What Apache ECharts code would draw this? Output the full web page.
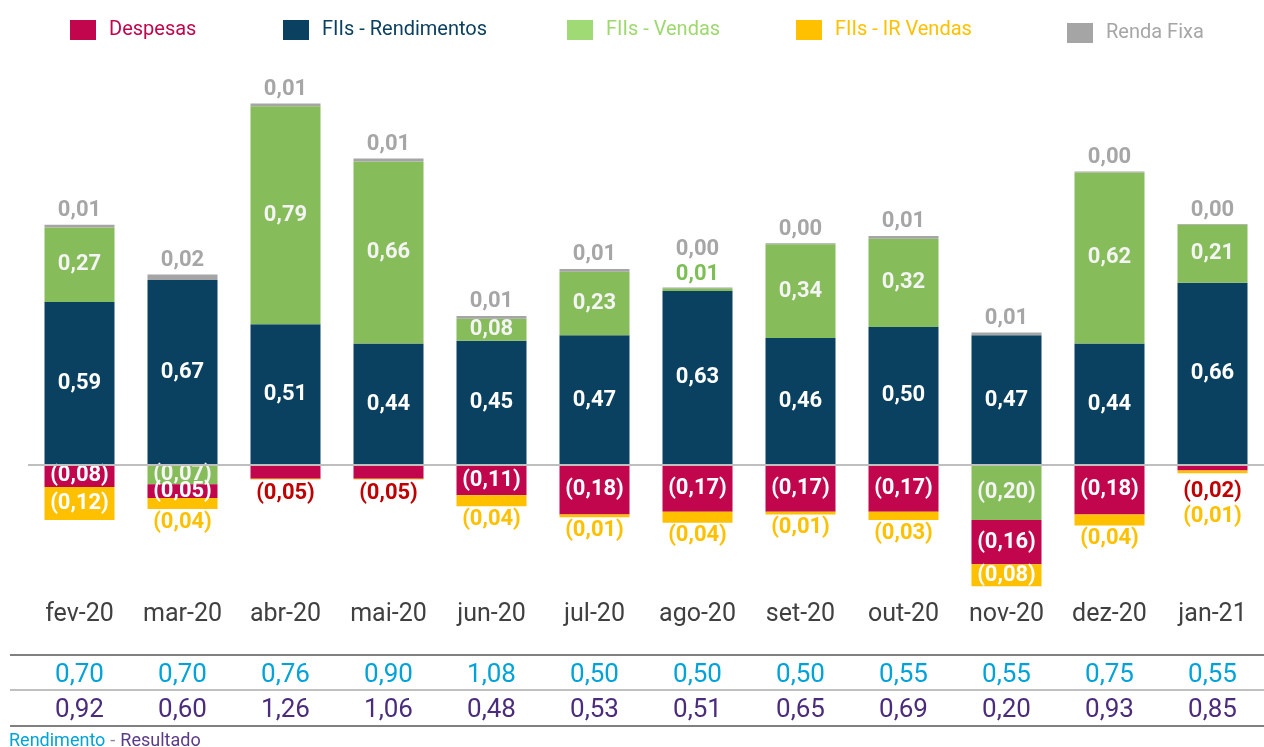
<!DOCTYPE html>
<html>
<head>
<meta charset="utf-8">
<script src="https://cdn.jsdelivr.net/npm/echarts@6/dist/echarts.min.js"></script>
<style>
  html, body { margin: 0; padding: 0; background: #fff; }
  #main { width: 1264px; height: 747px; }
</style>
</head>
<body>
<div id="main"></div>
<script>
// dados do gráfico
const meses = ['fev-20', 'mar-20', 'abr-20', 'mai-20', 'jun-20', 'jul-20', 'ago-20', 'set-20', 'out-20', 'nov-20', 'dez-20', 'jan-21'];
const despesas = [-0.08, -0.05, -0.05, -0.05, -0.11, -0.18, -0.17, -0.17, -0.17, -0.16, -0.18, -0.02];
const rendimentos = [0.59, 0.67, 0.51, 0.44, 0.45, 0.47, 0.63, 0.46, 0.50, 0.47, 0.44, 0.66];
const vendas = [0.27, -0.07, 0.79, 0.66, 0.08, 0.23, 0.01, 0.34, 0.32, -0.20, 0.62, 0.21];
const irVendas = [-0.12, -0.04, -0.003, -0.003, -0.04, -0.01, -0.04, -0.01, -0.03, -0.08, -0.04, -0.01];
const rendaFixa = [0.01, 0.02, 0.01, 0.01, 0.01, 0.01, 0.003, 0.003, 0.01, 0.01, 0.003, 0.003];
const rendimentoMes = [0.70, 0.70, 0.76, 0.90, 1.08, 0.50, 0.50, 0.50, 0.55, 0.55, 0.75, 0.55];
const resultadoMes = [0.92, 0.60, 1.26, 1.06, 0.48, 0.53, 0.51, 0.65, 0.69, 0.20, 0.93, 0.85];

// cores
const corDespesas = '#C2064D';
const corRend = '#0B4160';
const corVendas = '#86BC5A';
const corIR = '#FFC000';
const corRF = '#A5A5A5';

// meses em que o rótulo de despesas fica fora da barra
const despesasFora = [2, 3, 11];

function fmt(v) {
    const s = Math.abs(v).toFixed(2).replace('.', ',');
    return v < 0 ? '(' + s + ')' : s;
}

const labelBase = { show: true, fontFamily: 'Roboto', fontSize: 22, fontWeight: 'bold', formatter: p => fmt(p.value) };

const chart = echarts.init(document.getElementById('main'));

function legenda(nome, x, y, corTexto, corIcone) {
    return {
        data: [{ name: nome, itemStyle: { color: corIcone } }],
        left: x - 5, top: y,
        icon: 'rect', itemWidth: 26, itemHeight: 20,
        selectedMode: false,
        textStyle: { color: corTexto, fontSize: 20, fontFamily: 'Roboto', padding: [0, 0, 0, 8] }
    };
}

chart.setOption({
    animation: false,
    legend: [
        legenda('Despesas', 70, 15, '#C0064C', corDespesas),
        legenda('FIIs - Rendimentos', 283, 15, '#0C4060', corRend),
        legenda('FIIs - Vendas', 567, 15, '#9ED86F', '#A0DA74'),
        legenda('FIIs - IR Vendas', 796, 15, '#FFC000', corIR),
        legenda('Renda Fixa', 1067, 18, '#A6A6A6', corRF)
    ],
    title: {
        text: '{a|Rendimento} {b|-} {c|Resultado}',
        left: 4, top: 727,
        textStyle: {
            rich: {
                a: { color: '#00A3D9', fontSize: 18, fontFamily: 'Roboto', fontWeight: 'normal' },
                b: { color: '#888', fontSize: 18, fontFamily: 'Roboto', fontWeight: 'normal' },
                c: { color: '#5B3A8A', fontSize: 18, fontFamily: 'Roboto', fontWeight: 'normal' }
            }
        }
    },
    grid: { left: 28, right: 0, top: 78.6, bottom: 152.4 },
    xAxis: [{
        type: 'category',
        data: meses,
        axisLine: { show: false, onZero: false },
        axisTick: { show: false },
        axisLabel: { color: '#404040', fontSize: 25, fontFamily: 'Roboto', margin: 8, interval: 0 }
    }, {
        type: 'category',
        position: 'bottom',
        offset: 60,
        data: rendimentoMes.map(fmt),
        axisLine: { show: false },
        axisTick: { show: false },
        axisLabel: { color: '#00A3D9', fontSize: 26, fontFamily: 'Roboto', margin: 8, interval: 0 }
    }, {
        type: 'category',
        position: 'bottom',
        offset: 96,
        data: resultadoMes.map(fmt),
        axisLine: { show: false },
        axisTick: { show: false },
        axisLabel: { color: '#4B2C7C', fontSize: 26, fontFamily: 'Roboto', margin: 7, interval: 0 }
    }],
    yAxis: { type: 'value', min: -0.47, max: 1.4, show: false, splitLine: { show: false } },
    graphic: [
        { type: 'line', shape: { x1: 10, y1: 655, x2: 1264, y2: 655 }, style: { stroke: '#808080', lineWidth: 2 } },
        { type: 'line', shape: { x1: 10, y1: 690, x2: 1264, y2: 690 }, style: { stroke: '#C0C0C0', lineWidth: 2 } },
        { type: 'line', shape: { x1: 10, y1: 726, x2: 1264, y2: 726 }, style: { stroke: '#808080', lineWidth: 2 } }
    ],
    series: [{
        name: 'FIIs - Rendimentos',
        type: 'bar', stack: 'total', barWidth: 70,
        itemStyle: { color: corRend },
        label: Object.assign({}, labelBase, { position: 'inside', color: '#fff' }),
        data: rendimentos,
        markLine: {
            silent: true, symbol: 'none',
            label: { show: false },
            lineStyle: { color: '#BFBFBF', type: 'solid', width: 2 },
            data: [{ yAxis: 0 }]
        }
    }, {
        name: 'FIIs - Vendas',
        type: 'bar', stack: 'total', barWidth: 70,
        itemStyle: { color: corVendas },
        label: Object.assign({}, labelBase, { position: 'inside', color: '#F4F4F4' }),
        data: vendas.map(v => Math.abs(v) < 0.05
            ? { value: v, label: { position: 'top', color: '#7DBE55', distance: 3 } }
            : v)
    }, {
        name: 'Renda Fixa',
        type: 'bar', stack: 'total', barWidth: 70,
        itemStyle: { color: corRF },
        label: Object.assign({}, labelBase, { position: 'top', color: '#A6A6A6', distance: 3 }),
        data: rendaFixa.map((v, i) => vendas[i] > 0 && vendas[i] < 0.05
            ? { value: v, label: { offset: [0, -24] } }
            : v)
    }, {
        name: 'Despesas',
        type: 'bar', stack: 'total', barWidth: 70,
        itemStyle: { color: corDespesas },
        label: Object.assign({}, labelBase, { position: 'inside', color: '#fff' }),
        data: despesas.map((v, i) => despesasFora.includes(i)
            ? { value: v, label: { position: 'bottom', color: '#C00000', distance: i === 11 ? 10 : 4 } }
            : v)
    }, {
        name: 'FIIs - IR Vendas',
        type: 'bar', stack: 'total', barWidth: 70,
        itemStyle: { color: corIR },
        label: Object.assign({}, labelBase, { position: 'bottom', color: '#FFC000', distance: 2 }),
        data: irVendas.map((v, i) => {
            if (Math.abs(v) < 0.005) return { value: v, label: { show: false } };
            if (Math.abs(v) >= 0.08) return { value: v, label: { position: 'inside', color: '#fff' } };
            if (despesasFora.includes(i)) return { value: v, label: { offset: [0, 30] } };
            return v;
        })
    }]
});
</script>
</body>
</html>
